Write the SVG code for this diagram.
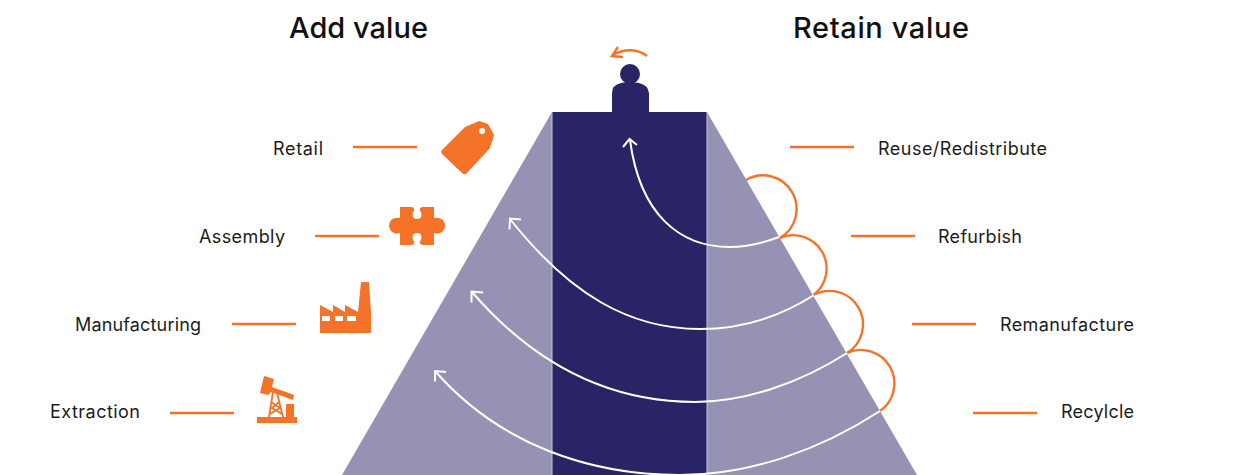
<svg xmlns="http://www.w3.org/2000/svg" width="1233" height="475" viewBox="0 0 1233 475">
<defs>
<style>
.h{font-family:"Inter","Liberation Sans",sans-serif;font-size:29px;font-weight:500;fill:#111;}
.t{font-family:"Inter","Liberation Sans",sans-serif;font-size:18px;fill:#1c1c1c;}
.o{fill:none;stroke:#f47328;stroke-width:2.4;}
.w{fill:none;stroke:#fff;stroke-width:2;}
.f{fill:#f47328;}
.e{stroke:#c9c8da;stroke-width:1;}
</style>
</defs>
<rect width="1233" height="475" fill="#fff"/>
<g id="pyramid">
<polygon points="552,112 342,475 552,475" fill="#9592b4"/>
<polygon points="707,112 917,475 707,475" fill="#9592b4"/>
<rect x="552" y="112" width="155" height="363" fill="#292466"/>
<line class="e" x1="552" y1="112" x2="552" y2="475"/>
<line class="e" x1="707" y1="112" x2="707" y2="475"/>
</g>
<g id="person">
<circle cx="630" cy="74" r="10" fill="#292466"/>
<path d="M612 112V93Q612 85 621 83Q630 81 639 83Q648 85 649 93V112Z" fill="#292466"/>
</g>
<g id="connectors">
<path class="o" d="M353 147H417M315 236H379M232 324H296M170 413H234M790 147H854M851 236H915M912 324H976M973 413H1037"/>
<path class="o" d="M746 180A33.600 33.600 0 0 1 780 238"/>
<path class="o" d="M780 238A33.300 33.300 0 0 1 813.500 295"/>
<path class="o" d="M813.500 295A33.500 33.500 0 0 1 847 353"/>
<path class="o" d="M847 353A33.500 33.500 0 0 1 880 411"/>
<path class="o" d="M647 56C638 49 625 48 613 55M618 47L612 56L623 57"/>
<path class="w" d="M779 237C763 243 747 247 730 247C680 247 640 215 630 140M623 147L629.500 139L637 145"/>
<path class="w" d="M814 295C775 320 735 329 700 329C630 329 570 295 510 219M509.500 229.500L510 218.500L521 219.500"/>
<path class="w" d="M847 353C800 383 745 402 695 402C610 402 535 365 472 292M471.500 302.500L471.500 291.500L483 292.500"/>
<path class="w" d="M880 411C820 450 750 475 680 475C590 475 500 445 435 371M435 381.500L435 371L446 372"/>
</g>
<text class="h" x="289" y="38" textLength="139">Add value</text>
<text class="h" x="793" y="38" textLength="176">Retain value</text>
<g id="retail"><text class="t" x="273" y="155" textLength="50">Retail</text>
<path class="f" fill-rule="evenodd" d="M441 151L465 127L479 121L488 124L494 135L490 148L466 174Q464 175 462 173L442 154Q441 152 441 151ZM482 128A3 3 0 1 0 482.100 134A3 3 0 1 0 482 128Z"/></g>
<g id="assembly"><text class="t" x="199" y="243" textLength="86">Assembly</text>
<path class="f" d="M400 207H412Q416 209 413 212Q411 219 417 219Q423 219 421 212Q418 209 422 207H434V218Q439 217 443 220Q447 226 443 231Q439 235 434 233V245H422Q418 243 421 240Q423 233 417 233Q411 233 413 240Q416 243 412 245H400V233Q395 235 391 231Q387 226 391 220Q395 217 400 218Z"/></g>
<g id="manufacturing"><text class="t" x="75" y="331" textLength="126">Manufacturing</text>
<path class="f" fill-rule="evenodd" d="M320 305L333 312V305L345 312V305L358 312L361 282H369L371 312V333H320ZM322 316V321H330V316ZM335 316V321H343V316ZM347 316V321H356V316Z"/></g>
<g id="extraction"><text class="t" x="50" y="418" textLength="90">Extraction</text>
<path class="f" d="M257 417H297V423H257ZM264 376L274 379L272 387L294 395L293 400L271 392L268 395L260 393ZM286 404H294V417H286Z"/>
<path d="M273 392L269 417M277 393L283 417M271 402L280 408L270 414M279 402L272 408L282 414" fill="none" stroke="#f47328" stroke-width="1.800"/></g>
<g id="recycle"><text class="t" x="1061" y="418" textLength="73">Recylcle</text></g>
<g id="reuse"><text class="t" x="878" y="155" textLength="169">Reuse/Redistribute</text></g>
<g id="refurbish"><text class="t" x="938" y="243" textLength="84">Refurbish</text></g>
<g id="remanufacture"><text class="t" x="1000" y="331" textLength="134">Remanufacture</text></g>
</svg>
